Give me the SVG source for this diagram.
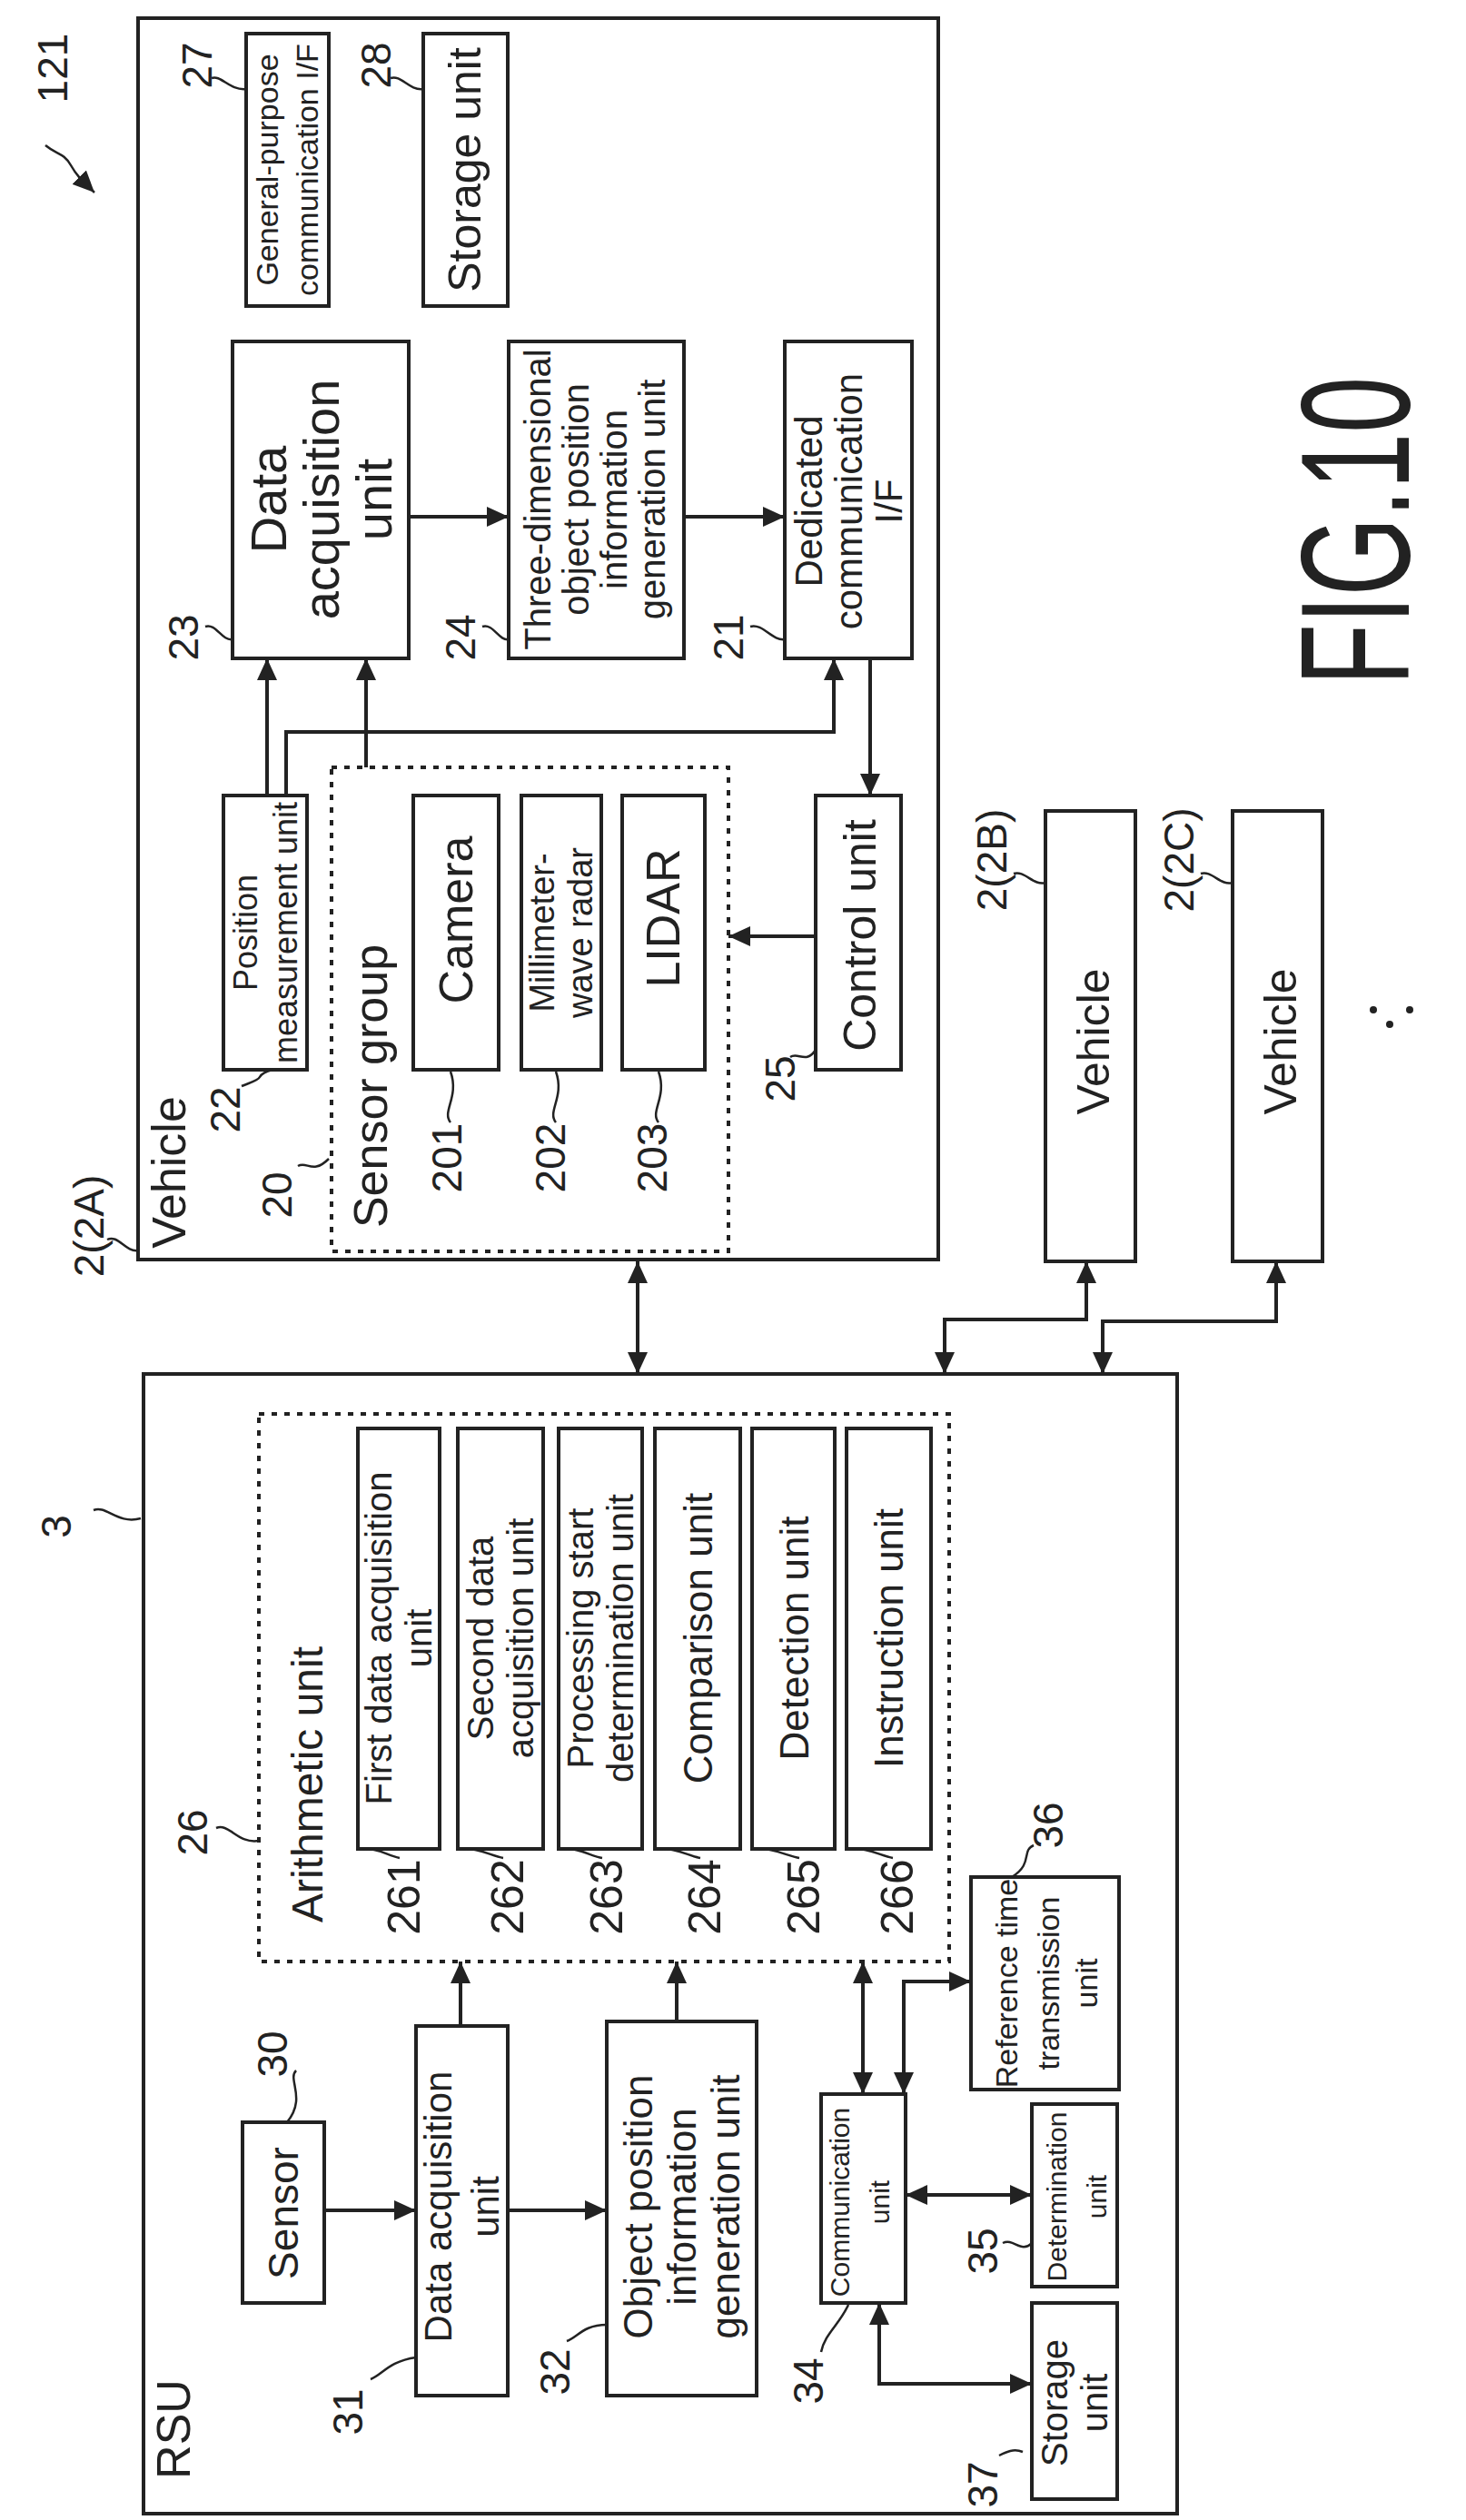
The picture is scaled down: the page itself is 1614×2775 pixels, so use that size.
<svg xmlns="http://www.w3.org/2000/svg" width="1614" height="2775" viewBox="0 0 1614 2775">
<style>
.b{fill:none;stroke:#222;stroke-width:4}
.d{fill:none;stroke:#222;stroke-width:4;stroke-dasharray:6 8}
.c{fill:none;stroke:#222;stroke-width:4}
.l{fill:none;stroke:#222;stroke-width:2.5}
text{font-family:"Liberation Sans",Arial,sans-serif;fill:#222;text-anchor:middle;dominant-baseline:central}
</style>
<defs>
<marker id="a" viewBox="0 0 24 22" refX="24" refY="11" markerWidth="24" markerHeight="22" markerUnits="userSpaceOnUse" orient="auto-start-reverse">
<path d="M0,0 L24,11 L0,22 z" fill="#222"/>
</marker>
</defs>
<rect width="1614" height="2775" fill="#fff"/>

<g id="label121">
<text transform="translate(58,75) rotate(-90)" font-size="46">121</text>
<path class="l" d="M50,160 C62,170 70,168 78,182 S92,200 104,212" marker-end="url(#a)"/>
</g>
<text id="fig" transform="translate(1492,585) rotate(-90)" font-size="170" textLength="340" lengthAdjust="spacingAndGlyphs">FIG.10</text>

<g id="vehicleA">
<rect class="b" x="152" y="20" width="881" height="1367"/>
<text transform="translate(186,1291) rotate(-90)" font-size="52">Vehicle</text>
<text transform="translate(98,1350) rotate(-90)" font-size="46">2(2A)</text>
<path class="l" d="M118,1365 c12,-6 20,14 34,12"/>
</g>

<g id="n27">
<rect class="b" x="271" y="37" width="91" height="300"/>
<text transform="translate(316,187) rotate(-90)" font-size="34"><tspan x="0" y="-22">General-purpose</tspan><tspan x="0" y="22">communication I/F</tspan></text>
<text transform="translate(217,72) rotate(-90)" font-size="46">27</text>
<path class="l" d="M233,86 c10,-4 20,14 38,12"/>
</g>
<g id="n28">
<rect class="b" x="466" y="37" width="93" height="300"/>
<text transform="translate(512,187) rotate(-90)" font-size="50">Storage unit</text>
<text transform="translate(414,72) rotate(-90)" font-size="46">28</text>
<path class="l" d="M430,86 c12,-4 20,14 36,12"/>
</g>
<g id="n23">
<rect class="b" x="256" y="376" width="194" height="349"/>
<text transform="translate(353,550) rotate(-90)" font-size="56"><tspan x="0" y="-58">Data</tspan><tspan x="0" y="0">acquisition</tspan><tspan x="0" y="58">unit</tspan></text>
<text transform="translate(202,702) rotate(-90)" font-size="46">23</text>
<path class="l" d="M226,690 c12,-4 18,16 30,14"/>
</g>
<g id="n24">
<rect class="b" x="560" y="376" width="193" height="349"/>
<text transform="translate(655,550) rotate(-90)" font-size="40"><tspan x="0" y="-63">Three-dimensional</tspan><tspan x="0" y="-21">object position</tspan><tspan x="0" y="21">information</tspan><tspan x="0" y="63">generation unit</tspan></text>
<text transform="translate(507,702) rotate(-90)" font-size="46">24</text>
<path class="l" d="M531,690 c12,-4 18,16 29,14"/>
</g>
<g id="n21">
<rect class="b" x="864" y="376" width="140" height="349"/>
<text transform="translate(934,552) rotate(-90)" font-size="42"><tspan x="0" y="-44">Dedicated</tspan><tspan x="0" y="0">communication</tspan><tspan x="0" y="44">I/F</tspan></text>
<text transform="translate(802,702) rotate(-90)" font-size="46">21</text>
<path class="l" d="M826,690 c14,-4 24,16 38,14"/>
</g>
<g id="n22">
<rect class="b" x="246" y="876" width="92" height="302"/>
<text transform="translate(292,1027) rotate(-90)" font-size="36"><tspan x="0" y="-22">Position</tspan><tspan x="0" y="22">measurement unit</tspan></text>
<text transform="translate(248,1222) rotate(-90)" font-size="46">22</text>
<path class="l" d="M266,1196 c10,-4 18,-6 20,-10 s6,-6 14,-8"/>
</g>
<g id="n20">
<rect class="d" x="365" y="845" width="437" height="533"/>
<text transform="translate(408,1196) rotate(-90)" font-size="52">Sensor group</text>
<text transform="translate(305,1316) rotate(-90)" font-size="46">20</text>
<path class="l" d="M328,1284 c10,-6 16,10 34,-8"/>
</g>
<g id="n201">
<rect class="b" x="455" y="876" width="94" height="302"/>
<text transform="translate(502,1013) rotate(-90)" font-size="52">Camera</text>
<text transform="translate(492,1275) rotate(-90)" font-size="46">201</text>
<path class="l" d="M496,1236 c-10,-12 10,-28 0,-56"/>
</g>
<g id="n202">
<rect class="b" x="574" y="876" width="88" height="302"/>
<text transform="translate(618,1027) rotate(-90)" font-size="38"><tspan x="0" y="-21">Millimeter-</tspan><tspan x="0" y="21">wave radar</tspan></text>
<text transform="translate(606,1275) rotate(-90)" font-size="46">202</text>
<path class="l" d="M612,1236 c-10,-12 10,-28 0,-56"/>
</g>
<g id="n203">
<rect class="b" x="685" y="876" width="91" height="302"/>
<text transform="translate(730,1011) rotate(-90)" font-size="52">LIDAR</text>
<text transform="translate(718,1275) rotate(-90)" font-size="46">203</text>
<path class="l" d="M725,1236 c-10,-12 10,-28 0,-56"/>
</g>
<g id="n25">
<rect class="b" x="898" y="876" width="94" height="302"/>
<text transform="translate(947,1030) rotate(-90)" font-size="50">Control unit</text>
<text transform="translate(859,1188) rotate(-90)" font-size="46">25</text>
<path class="l" d="M870,1164 c8,-6 18,8 28,-8"/>
</g>
<g id="vehicleB">
<rect class="b" x="1151" y="893" width="99" height="496"/>
<text transform="translate(1204,1147) rotate(-90)" font-size="50">Vehicle</text>
<text transform="translate(1092,947) rotate(-90)" font-size="46">2(2B)</text>
<path class="l" d="M1116,962 c12,-4 22,14 35,10"/>
</g>
<g id="vehicleC">
<rect class="b" x="1357" y="893" width="99" height="496"/>
<text transform="translate(1410,1147) rotate(-90)" font-size="50">Vehicle</text>
<text transform="translate(1298,947) rotate(-90)" font-size="46">2(2C)</text>
<path class="l" d="M1322,962 c12,-4 22,14 35,10"/>
</g>
<g id="dots" fill="#222">
<circle cx="1512" cy="1112" r="4"/><circle cx="1530" cy="1128" r="4"/><circle cx="1552" cy="1112" r="4"/>
</g>

<g id="rsu">
<rect class="b" x="158" y="1513" width="1138" height="1255"/>
<text transform="translate(191,2675) rotate(-90)" font-size="52">RSU</text>
<text transform="translate(62,1681) rotate(-90)" font-size="46">3</text>
<path class="l" d="M103,1663 c14,-6 26,16 52,9"/>
</g>
<g id="n26">
<rect class="d" x="285" y="1557" width="760" height="603"/>
<text transform="translate(338,1965) rotate(-90)" font-size="48">Arithmetic unit</text>
<text transform="translate(212,2018) rotate(-90)" font-size="46">26</text>
<path class="l" d="M238,2013 c14,-6 24,18 47,14"/>
</g>
<g id="n261">
<rect class="b" x="394" y="1573" width="90" height="463"/>
<text transform="translate(439,1804) rotate(-90)" font-size="40"><tspan x="0" y="-22">First data acquisition</tspan><tspan x="0" y="22">unit</tspan></text>
<text transform="translate(445,2089) rotate(-90)" font-size="50">261</text>
<path class="l" d="M440,2046 c-12,-2 -26,-12 -40,-10"/>
</g>
<g id="n262">
<rect class="b" x="504" y="1573" width="94" height="463"/>
<text transform="translate(551,1804) rotate(-90)" font-size="40"><tspan x="0" y="-22">Second data</tspan><tspan x="0" y="22">acquisition unit</tspan></text>
<text transform="translate(559,2089) rotate(-90)" font-size="50">262</text>
<path class="l" d="M554,2046 c-12,-2 -30,-12 -44,-10"/>
</g>
<g id="n263">
<rect class="b" x="615" y="1573" width="92" height="463"/>
<text transform="translate(661,1804) rotate(-90)" font-size="40"><tspan x="0" y="-22">Processing start</tspan><tspan x="0" y="22">determination unit</tspan></text>
<text transform="translate(668,2089) rotate(-90)" font-size="50">263</text>
<path class="l" d="M663,2046 c-12,-2 -28,-12 -42,-10"/>
</g>
<g id="n264">
<rect class="b" x="721" y="1573" width="94" height="463"/>
<text transform="translate(768,1804) rotate(-90)" font-size="44">Comparison unit</text>
<text transform="translate(776,2089) rotate(-90)" font-size="50">264</text>
<path class="l" d="M771,2046 c-12,-2 -30,-12 -44,-10"/>
</g>
<g id="n265">
<rect class="b" x="828" y="1573" width="91" height="463"/>
<text transform="translate(874,1804) rotate(-90)" font-size="44">Detection unit</text>
<text transform="translate(885,2089) rotate(-90)" font-size="50">265</text>
<path class="l" d="M880,2046 c-12,-2 -32,-12 -46,-10"/>
</g>
<g id="n266">
<rect class="b" x="932" y="1573" width="93" height="463"/>
<text transform="translate(978,1804) rotate(-90)" font-size="44">Instruction unit</text>
<text transform="translate(988,2089) rotate(-90)" font-size="50">266</text>
<path class="l" d="M983,2046 c-12,-2 -30,-12 -44,-10"/>
</g>
<g id="n36">
<rect class="b" x="1069" y="2067" width="163" height="234"/>
<text transform="translate(1152,2184) rotate(-90)" font-size="34"><tspan x="0" y="-44">Reference time</tspan><tspan x="0" y="2">transmission</tspan><tspan x="0" y="44">unit</tspan></text>
<text transform="translate(1154,2010) rotate(-90)" font-size="46">36</text>
<path class="l" d="M1138,2032 c-14,6 0,20 -24,35"/>
</g>
<g id="n30">
<rect class="b" x="267" y="2337" width="90" height="199"/>
<text transform="translate(312,2437) rotate(-90)" font-size="46">Sensor</text>
<text transform="translate(300,2262) rotate(-90)" font-size="46">30</text>
<path class="l" d="M326,2280 c-10,10 12,30 -10,57"/>
</g>
<g id="n31">
<rect class="b" x="458" y="2231" width="101" height="407"/>
<text transform="translate(508,2430) rotate(-90)" font-size="42"><tspan x="0" y="-26">Data acquisition</tspan><tspan x="0" y="26">unit</tspan></text>
<text transform="translate(383,2656) rotate(-90)" font-size="46">31</text>
<path class="l" d="M408,2620 c12,-4 20,-20 50,-24"/>
</g>
<g id="n32">
<rect class="b" x="668" y="2226" width="165" height="412"/>
<text transform="translate(750,2430) rotate(-90)" font-size="44"><tspan x="0" y="-48">Object position</tspan><tspan x="0" y="0">information</tspan><tspan x="0" y="48">generation unit</tspan></text>
<text transform="translate(611,2612) rotate(-90)" font-size="46">32</text>
<path class="l" d="M624,2578 c12,-4 18,-18 44,-18"/>
</g>
<g id="n34">
<rect class="b" x="904" y="2306" width="93" height="230"/>
<text transform="translate(946,2425) rotate(-90)" font-size="30"><tspan x="0" y="-22">Communication</tspan><tspan x="0" y="22">unit</tspan></text>
<text transform="translate(890,2622) rotate(-90)" font-size="46">34</text>
<path class="l" d="M904,2590 c4,-20 20,-30 30,-52"/>
</g>
<g id="n35">
<rect class="b" x="1136" y="2317" width="94" height="201"/>
<text transform="translate(1185,2419) rotate(-90)" font-size="30"><tspan x="0" y="-22">Determination</tspan><tspan x="0" y="22">unit</tspan></text>
<text transform="translate(1082,2479) rotate(-90)" font-size="46">35</text>
<path class="l" d="M1104,2470 c12,-6 20,12 32,0"/>
</g>
<g id="n37">
<rect class="b" x="1136" y="2536" width="94" height="216"/>
<text transform="translate(1183,2646) rotate(-90)" font-size="40"><tspan x="0" y="-22">Storage</tspan><tspan x="0" y="22">unit</tspan></text>
<text transform="translate(1082,2736) rotate(-90)" font-size="46">37</text>
<path class="l" d="M1100,2704 c8,-4 16,-8 26,-4"/>
</g>

<g id="connectors">
<path class="c" d="M450,569 H560" marker-end="url(#a)"/>
<path class="c" d="M753,569 H864" marker-end="url(#a)"/>
<path class="c" d="M294,876 V725" marker-end="url(#a)"/>
<path class="c" d="M315,876 V806 H918 V725" marker-end="url(#a)"/>
<path class="c" d="M403,845 V725" marker-end="url(#a)"/>
<path class="c" d="M958,725 V876" marker-end="url(#a)"/>
<path class="c" d="M898,1031 H802" marker-end="url(#a)"/>
<path class="c" d="M702,1389 V1513" marker-start="url(#a)" marker-end="url(#a)"/>
<path class="c" d="M1040,1513 V1453 H1196 V1389" marker-start="url(#a)" marker-end="url(#a)"/>
<path class="c" d="M1214,1513 V1455 H1405 V1389" marker-start="url(#a)" marker-end="url(#a)"/>
<path class="c" d="M357,2434 H458" marker-end="url(#a)"/>
<path class="c" d="M559,2434 H668" marker-end="url(#a)"/>
<path class="c" d="M507,2231 V2160" marker-end="url(#a)"/>
<path class="c" d="M745,2226 V2160" marker-end="url(#a)"/>
<path class="c" d="M950,2306 V2160" marker-start="url(#a)" marker-end="url(#a)"/>
<path class="c" d="M995,2306 V2182 H1069" marker-start="url(#a)" marker-end="url(#a)"/>
<path class="c" d="M997,2417 H1136" marker-start="url(#a)" marker-end="url(#a)"/>
<path class="c" d="M968,2536 V2625 H1136" marker-start="url(#a)" marker-end="url(#a)"/>
</g>
</svg>
